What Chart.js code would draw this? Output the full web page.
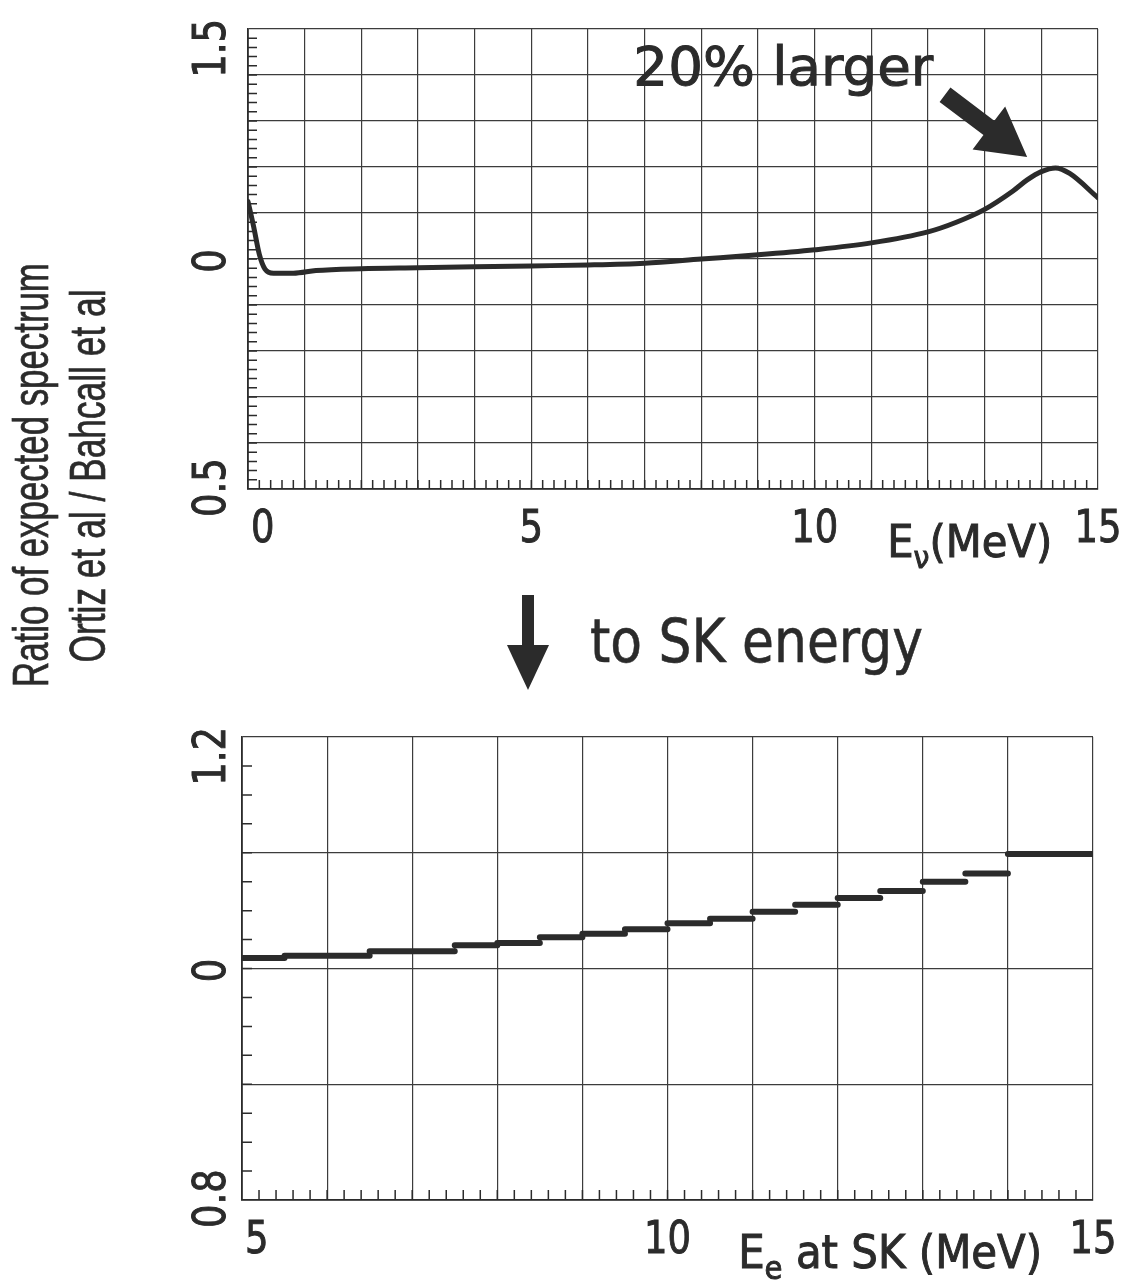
<!DOCTYPE html>
<html>
<head>
<meta charset="utf-8">
<script src="https://cdn.jsdelivr.net/npm/chart.js@4.4.1/dist/chart.umd.min.js"></script>
<style>
  html, body { margin: 0; padding: 0; background: #fff; }
  #page { position: relative; width: 1127px; height: 1281px; overflow: hidden; background: #fff; }
  canvas { position: absolute; left: 0; }
  #topChart { top: 0; }
  #bottomChart { top: 700px; }
  .ytitle {
    position: absolute; white-space: nowrap; line-height: 1;
    font-family: 'Liberation Sans Narrow', 'Liberation Sans', sans-serif;
    font-size: 50px; color: #2b2b2b; -webkit-text-stroke: 0.7px #2b2b2b;
  }
  #skText {
    position: absolute; left: 590px; top: 611px; white-space: nowrap; line-height: 1;
    font-family: 'DejaVu Sans', sans-serif; font-size: 60px; color: #2b2b2b;
    -webkit-text-stroke: 0.6px #2b2b2b;
    transform-origin: left center;
  }
  #downArrow { position: absolute; left: 500px; top: 590px; }
</style>
</head>
<body>
<div id="page">
  <canvas id="topChart" width="1127" height="580"></canvas>
  <canvas id="bottomChart" width="1127" height="581"></canvas>
  <div class="ytitle" id="yt1" data-cx="31" data-cy="475" data-len="424">Ratio of expected spectrum</div>
  <div class="ytitle" id="yt2" data-cx="88" data-cy="476" data-len="373">Ortiz et al / Bahcall et al</div>
  <svg id="downArrow" width="60" height="110">
    <rect x="22" y="5" width="12" height="54" fill="#2b2b2b"/>
    <polygon points="7,55 49,55 28,100" fill="#2b2b2b"/>
  </svg>
  <div id="skText" data-len="333">to SK energy</div>
</div>
<script>
// neutrino energy spectrum ratio (top)
const nuEnergy = [0, 0.1, 0.2, 0.3, 0.45, 0.8, 1.2, 2, 3, 4, 5, 6, 7, 8, 9, 10, 11, 12, 12.5, 13, 13.5, 13.75, 14, 14.25, 14.5, 15];
const nuRatio  = [1.125, 1.07, 1.01, 0.978, 0.969, 0.969, 0.975, 0.979, 0.981, 0.983, 0.985, 0.987, 0.991, 1.0, 1.009, 1.02, 1.035, 1.059, 1.080, 1.108, 1.148, 1.172, 1.190, 1.198, 1.186, 1.133];

// recoil electron energy bins at SK (bottom)
const skBinStart = [5, 5.5, 6, 6.5, 7, 7.5, 8, 8.5, 9, 9.5, 10, 10.5, 11, 11.5, 12, 12.5, 13, 13.5, 14];
const skBinEnd   = [5.5, 6, 6.5, 7, 7.5, 8, 8.5, 9, 9.5, 10, 10.5, 11, 11.5, 12, 12.5, 13, 13.5, 14, 15];
const skRatio    = [1.009, 1.011, 1.011, 1.015, 1.015, 1.020, 1.022, 1.027, 1.030, 1.034, 1.039, 1.043, 1.049, 1.055, 1.061, 1.067, 1.075, 1.082, 1.099];

// tick labels
const topXTicks = [0, 5, 10, 15];
const topYTicks = [1.5, 1.0, 0.5];
const topYLabels = ['1.5', '0', '0.5'];
const bottomXTicks = [5, 10, 15];
const bottomYTicks = [1.2, 1.0, 0.8];
const bottomYLabels = ['1.2', '0', '0.8'];

const INK = '#2b2b2b';
const FONT = "'DejaVu Sans', sans-serif";

function drawScaled(ctx, text, x, y, size, sx, align, rot) {
  ctx.save();
  ctx.translate(x, y);
  if (rot) ctx.rotate(rot);
  ctx.scale(sx, 1);
  ctx.font = size + 'px ' + FONT;
  ctx.textAlign = align;
  ctx.lineWidth = 1;
  ctx.strokeStyle = INK;
  ctx.fillText(text, 0, 0);
  ctx.strokeText(text, 0, 0);
  ctx.restore();
}

function drawParts(ctx, parts, x, y, width) {
  let total = 0;
  parts.forEach(p => { ctx.font = p.size + 'px ' + FONT; total += ctx.measureText(p.t).width; });
  const s = width / total;
  let cx = x;
  parts.forEach(p => {
    ctx.font = p.size + 'px ' + FONT;
    const w = ctx.measureText(p.t).width;
    drawScaled(ctx, p.t, cx, y + p.dy, p.size, s, 'left', 0);
    cx += w * s;
  });
}

const decor = {
  id: 'decor',
  afterDatasetsDraw(chart, args, o) {
    const ctx = chart.ctx, a = chart.chartArea;
    const xs = chart.scales.x, ys = chart.scales.y;
    ctx.save();
    ctx.strokeStyle = INK;
    ctx.fillStyle = INK;
    ctx.lineWidth = 1.5;
    ctx.beginPath();
    const nx = Math.round((xs.max - xs.min) / o.xMinor);
    for (let i = 1; i < nx; i++) {
      const p = xs.getPixelForValue(xs.min + i * o.xMinor);
      ctx.moveTo(p, a.bottom); ctx.lineTo(p, a.bottom - o.tickLen);
    }
    const ny = Math.round((ys.max - ys.min) / o.yMinor);
    for (let i = 1; i < ny; i++) {
      const p = ys.getPixelForValue(ys.min + i * o.yMinor);
      ctx.moveTo(a.left, p); ctx.lineTo(a.left + o.tickLen, p);
    }
    ctx.stroke();

    // x tick labels
    o.xTicks.forEach((v, i) => {
      const p = xs.getPixelForValue(v);
      if (i === 0) drawScaled(ctx, String(v), a.left + 3, a.bottom + 53, 45, 0.82, 'left', 0);
      else drawScaled(ctx, String(v), p, a.bottom + 53, 45, 0.82, 'center', 0);
    });
    // y tick labels, rotated
    o.yTicks.forEach((v, i) => {
      const txt = o.yLabels[i];
      ctx.font = '45px ' + FONT;
      const half = ctx.measureText(txt).width * 0.82 / 2;
      let c = ys.getPixelForValue(v) + 2;
      c = Math.max(c, a.top - 10 + half);
      c = Math.min(c, a.bottom + 28 - half);
      ctx.save();
      ctx.textBaseline = 'middle';
      drawScaled(ctx, txt, 213, c, 45, 0.82, 'center', -Math.PI / 2);
      ctx.restore();
    });
    // axis title
    drawParts(ctx, o.title, a.left + o.titlePos * (a.right - a.left), a.bottom + 68, o.titleWidth);

    // annotation
    if (o.note) {
      const n = o.note;
      const tx = xs.getPixelForValue(n.textAt[0]), ty = ys.getPixelForValue(n.textAt[1]);
      ctx.font = '54px ' + FONT;
      const w = ctx.measureText(n.text).width;
      drawScaled(ctx, n.text, tx, ty, 54, n.textWidth / w, 'left', 0);
      const x0 = xs.getPixelForValue(n.from[0]), y0 = ys.getPixelForValue(n.from[1]);
      const x1 = xs.getPixelForValue(n.to[0]), y1 = ys.getPixelForValue(n.to[1]);
      const L = Math.hypot(x1 - x0, y1 - y0), dx = (x1 - x0) / L, dy = (y1 - y0) / L;
      const px = -dy, py = dx, hl = 48, hw = 27, sw = 9;
      const bx = x1 - dx * hl, by = y1 - dy * hl;
      ctx.beginPath();
      ctx.moveTo(x0 + px * sw, y0 + py * sw);
      ctx.lineTo(bx + px * sw, by + py * sw);
      ctx.lineTo(bx + px * hw, by + py * hw);
      ctx.lineTo(x1, y1);
      ctx.lineTo(bx - px * hw, by - py * hw);
      ctx.lineTo(bx - px * sw, by - py * sw);
      ctx.lineTo(x0 - px * sw, y0 - py * sw);
      ctx.closePath();
      ctx.fill();
    }
    ctx.restore();
  }
};

function axes(xmin, xmax, ymin, ymax) {
  const common = {
    type: 'linear',
    grid: { color: '#3c3c3c', lineWidth: 1.2, drawTicks: false },
    border: { color: INK, width: 1.8 }
  };
  return {
    x: Object.assign({}, common, { min: xmin, max: xmax, ticks: { display: false, stepSize: 1 },
      afterFit(s) { s.height = 0; } }),
    y: Object.assign({}, common, { min: ymin, max: ymax, ticks: { display: false, stepSize: 0.1 },
      afterFit(s) { s.width = 0; } })
  };
}

new Chart(document.getElementById('topChart'), {
  type: 'line',
  data: {
    datasets: [{
      data: nuEnergy.map((e, i) => ({ x: e, y: nuRatio[i] })),
      borderColor: INK, borderWidth: 5, pointRadius: 0,
      cubicInterpolationMode: 'monotone', borderCapStyle: 'round', borderJoinStyle: 'round'
    }]
  },
  options: {
    responsive: false, animation: false,
    layout: { padding: { left: 248, right: 29, top: 29, bottom: 91 } },
    scales: axes(0, 15, 0.5, 1.5),
    plugins: {
      legend: { display: false }, tooltip: { enabled: false },
      decor: {
        xMinor: 0.2, yMinor: 0.02, tickLen: 9,
        xTicks: topXTicks, yTicks: topYTicks, yLabels: topYLabels,
        title: [{ t: 'E', size: 44, dy: 0 }, { t: 'ν', size: 30, dy: 11 }, { t: '(MeV)', size: 44, dy: 0 }],
        titlePos: 0.752, titleWidth: 165,
        note: { text: '20% larger', textAt: [6.8, 1.378], textWidth: 300, from: [12.3, 1.357], to: [13.75, 1.222] }
      }
    }
  },
  plugins: [decor]
});

const skSegments = [];
skBinStart.forEach((s, i) => {
  skSegments.push({ x: s, y: skRatio[i] }, { x: skBinEnd[i], y: skRatio[i] }, { x: skBinEnd[i], y: null });
});

new Chart(document.getElementById('bottomChart'), {
  type: 'line',
  data: {
    datasets: [{
      data: skSegments, spanGaps: false,
      borderColor: INK, borderWidth: 6, pointRadius: 0, tension: 0,
      borderCapStyle: 'round'
    }]
  },
  options: {
    responsive: false, animation: false,
    layout: { padding: { left: 242, right: 34, top: 37, bottom: 81 } },
    scales: axes(5, 15, 0.8, 1.2),
    plugins: {
      legend: { display: false }, tooltip: { enabled: false },
      decor: {
        xMinor: 0.2, yMinor: 0.025, tickLen: 10,
        xTicks: bottomXTicks, yTicks: bottomYTicks, yLabels: bottomYLabels,
        title: [{ t: 'E', size: 46, dy: 0 }, { t: 'e', size: 32, dy: 11 }, { t: ' at SK (MeV)', size: 46, dy: 0 }],
        titlePos: 0.583, titleWidth: 304
      }
    }
  },
  plugins: [decor]
});

// fit the HTML labels to their measured lengths
document.querySelectorAll('.ytitle').forEach(el => {
  const s = (+el.dataset.len) / el.offsetWidth;
  el.style.left = el.dataset.cx + 'px';
  el.style.top = el.dataset.cy + 'px';
  el.style.transform = 'translate(-50%, -50%) rotate(-90deg) scaleX(' + s + ')';
});
const sk = document.getElementById('skText');
sk.style.transform = 'scaleX(' + ((+sk.dataset.len) / sk.offsetWidth) + ')';
</script>
</body>
</html>
